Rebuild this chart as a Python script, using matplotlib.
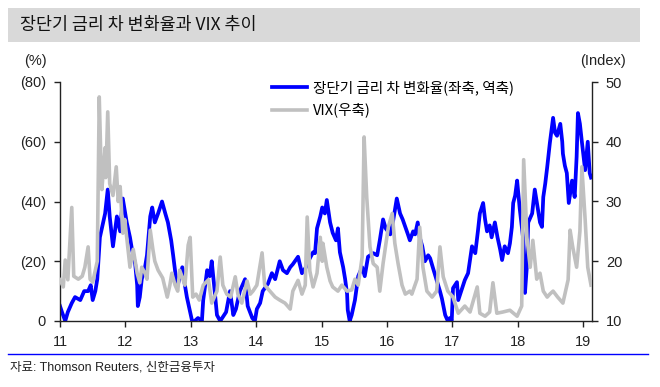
import matplotlib
matplotlib.use("Agg")
import matplotlib.pyplot as plt
from matplotlib.patches import Rectangle
from matplotlib.lines import Line2D
from matplotlib.ticker import FuncFormatter

plt.rcParams['font.family'] = ['Liberation Sans', 'Noto Sans CJK KR']

# ---------------- data ----------------
title = "장단기 금리 차 변화율과 VIX 추이"
source = "자료: Thomson Reuters, 신한금융투자"
label_spread = "장단기 금리 차 변화율(좌축, 역축)"
label_vix = "VIX(우축)"

year_ticks = [2011, 2012, 2013, 2014, 2015, 2016, 2017, 2018, 2019]
year_labels = ["11", "12", "13", "14", "15", "16", "17", "18", "19"]
left_ticks = [0, -20, -40, -60, -80]
right_ticks = [10, 20, 30, 40, 50]

spread_t = [
    2011.00, 2011.03, 2011.08, 2011.12, 2011.18, 2011.23, 2011.31, 2011.37, 2011.43, 2011.47,
    2011.50, 2011.54, 2011.57, 2011.61, 2011.66, 2011.69, 2011.73, 2011.76, 2011.81, 2011.84,
    2011.87, 2011.92, 2011.96, 2011.99, 2012.02, 2012.07, 2012.10, 2012.15, 2012.18, 2012.19,
    2012.22, 2012.25, 2012.30, 2012.33, 2012.38, 2012.41, 2012.45, 2012.50, 2012.56, 2012.61,
    2012.65, 2012.70, 2012.73, 2012.77, 2012.80, 2012.87, 2012.91, 2012.94, 2012.99, 2013.02,
    2013.06, 2013.11, 2013.17, 2013.19, 2013.25, 2013.29, 2013.32, 2013.37, 2013.40, 2013.45,
    2013.48, 2013.54, 2013.60, 2013.65, 2013.69, 2013.75, 2013.83, 2013.87, 2013.94, 2013.98,
    2014.01, 2014.06, 2014.10, 2014.18, 2014.24, 2014.29, 2014.36, 2014.41, 2014.47, 2014.52,
    2014.56, 2014.64, 2014.70, 2014.76, 2014.82, 2014.87, 2014.90, 2014.93, 2014.98, 2015.01,
    2015.05, 2015.08, 2015.13, 2015.17, 2015.22, 2015.25, 2015.28, 2015.33, 2015.36, 2015.39,
    2015.40, 2015.43, 2015.46, 2015.51, 2015.56, 2015.62, 2015.66, 2015.71, 2015.79, 2015.85,
    2015.89, 2015.94, 2015.98, 2016.05, 2016.09, 2016.12, 2016.15, 2016.20, 2016.24, 2016.28,
    2016.32, 2016.35, 2016.40, 2016.43, 2016.47, 2016.50, 2016.54, 2016.58, 2016.63, 2016.66,
    2016.70, 2016.76, 2016.81, 2016.84, 2016.89, 2016.93, 2016.96, 2016.99, 2017.01, 2017.07,
    2017.09, 2017.15, 2017.19, 2017.24, 2017.30, 2017.35, 2017.39, 2017.42, 2017.47, 2017.50,
    2017.53, 2017.57, 2017.60, 2017.65, 2017.69, 2017.73, 2017.76, 2017.80, 2017.85, 2017.88,
    2017.91, 2017.93, 2017.96, 2017.99, 2018.03, 2018.08, 2018.09, 2018.11, 2018.14, 2018.16,
    2018.22, 2018.26, 2018.31, 2018.34, 2018.37, 2018.39, 2018.42, 2018.45, 2018.49, 2018.54,
    2018.57, 2018.60, 2018.65, 2018.68, 2018.69, 2018.72, 2018.75, 2018.78, 2018.83, 2018.87,
    2018.90, 2018.92, 2018.95, 2018.98, 2019.03, 2019.07, 2019.10, 2019.12,
]
# change rate of the long-short spread (%), negative values (plotted on reversed axis)
spread_v = [
    -5, -3, 0, -3, -6, -8, -7, -10, -10, -12,
    -7, -10, -14, -28, -33, -36, -44, -35, -25, -30,
    -35, -30, -41, -37, -33, -28, -24, -19, -12, -5,
    -8, -14, -18, -22, -35, -38, -33, -36, -40, -36,
    -33, -27, -22, -15, -12, -18, -12, -8, -3, 0,
    0, -1, 0, -7, -17, -15, -20, -9, -2, 0,
    -1, -3, -10, -2, -4, -10, -14, -5, -1, 0,
    -4, -6, -10, -12.5, -16, -14, -20, -17, -16, -18,
    -19, -21.5, -16, -18, -21, -23, -22.7, -31, -35, -38,
    -36, -40.5, -33, -29.5, -27, -31, -23, -18, -14, -9,
    -3.7, 0, -2, -7, -15, -18, -15, -21.5, -22.7, -22,
    -27, -34, -31, -29, -33, -37, -41, -36, -34, -31.5,
    -29, -27, -30, -29, -33, -28, -25, -20, -22, -21,
    -18, -13.7, -10, -7.5, -2, 0, -1, 0, -11, -13,
    -7, -11, -13.7, -16, -25, -22.7, -30, -36, -39.5, -34,
    -30, -32, -28, -33, -28, -24, -20.4, -25, -22.7, -26,
    -31.5, -39.5, -42, -47, -37.6, -28, -20, -9.4, -18.7, -33,
    -36, -44, -37, -33, -31.5, -41.5, -46, -51.5, -59.5, -68,
    -63, -62, -66, -60, -56, -52, -49.5, -39.5, -47, -41.5,
    -55, -69.6, -66, -60, -50.5, -60, -49.5, -48,
]

vix_t = [
    2011.00, 2011.05, 2011.08, 2011.12, 2011.18, 2011.21, 2011.28, 2011.34, 2011.38, 2011.43,
    2011.46, 2011.50, 2011.54, 2011.57, 2011.60, 2011.63, 2011.64, 2011.69, 2011.70, 2011.73,
    2011.76, 2011.81, 2011.86, 2011.89, 2011.92, 2011.96, 2011.99, 2012.04, 2012.07, 2012.12,
    2012.15, 2012.18, 2012.22, 2012.25, 2012.30, 2012.33, 2012.38, 2012.42, 2012.45, 2012.50,
    2012.57, 2012.64, 2012.68, 2012.71, 2012.76, 2012.80, 2012.83, 2012.88, 2012.91, 2012.96,
    2012.99, 2013.03, 2013.08, 2013.13, 2013.19, 2013.27, 2013.32, 2013.40, 2013.45, 2013.49,
    2013.55, 2013.61, 2013.68, 2013.72, 2013.78, 2013.86, 2013.91, 2013.95, 2014.01, 2014.09,
    2014.13, 2014.21, 2014.29, 2014.36, 2014.44, 2014.52, 2014.56, 2014.64, 2014.70, 2014.75,
    2014.78, 2014.82, 2014.87, 2014.93, 2014.98, 2015.01, 2015.02, 2015.08, 2015.13, 2015.17,
    2015.25, 2015.31, 2015.39, 2015.46, 2015.51, 2015.56, 2015.62, 2015.65, 2015.69, 2015.74,
    2015.79, 2015.85, 2015.89, 2015.94, 2016.02, 2016.08, 2016.12, 2016.17, 2016.23, 2016.28,
    2016.35, 2016.38, 2016.46, 2016.50, 2016.55, 2016.61, 2016.69, 2016.76, 2016.81, 2016.86,
    2016.93, 2017.01, 2017.09, 2017.19, 2017.27, 2017.38, 2017.42, 2017.50, 2017.57, 2017.62,
    2017.68, 2017.77, 2017.88, 2017.99, 2018.06, 2018.09, 2018.14, 2018.19, 2018.23, 2018.29,
    2018.34, 2018.39, 2018.45, 2018.49, 2018.54, 2018.61, 2018.69, 2018.77, 2018.80, 2018.84,
    2018.90, 2018.95, 2018.98, 2019.03, 2019.07, 2019.12,
]
vix_v = [
    16.9, 15.7, 20.2, 16.9, 29, 17.5, 17, 17.5, 19, 22.4,
    17, 16.5, 18.5, 20, 47.5, 35, 32, 39, 34, 45,
    33, 31, 35.8, 30, 32.5, 24.7, 27, 22, 19, 22,
    20, 18, 16.4, 19, 18, 17, 25.2, 22, 20, 18.5,
    17.2, 14, 16, 18, 16, 15, 18.5, 17, 16, 22.7,
    24, 14, 14.5, 13.5, 16, 16.9, 13, 15, 20.7, 16,
    14.5, 14, 17.4, 14.5, 13, 16.7, 14.5, 15, 16, 21.4,
    16, 15, 14, 13.5, 13, 12, 15, 16.8, 14.5, 16,
    27.4, 18.4, 15.7, 18, 24, 20, 23, 19, 16.7, 15.7,
    15, 16, 15, 15.2, 17, 16, 20.7, 40.8, 30.8, 22.4,
    19.6, 19, 15, 19.6, 25.7, 28, 23, 19.6, 16, 14.5,
    15, 14.5, 17, 25.7, 19, 15, 14, 15, 22.4, 17.4,
    15, 14, 11.3, 12.5, 11.5, 15.7, 11.3, 10.8, 11.5, 16.4,
    11.3, 11.5, 11.8, 10.8, 12.5, 37, 24, 19, 23.5, 17,
    18, 15, 14, 14.5, 15, 14, 13, 16.9, 25.2, 22.4,
    19, 25, 35.8, 27, 19, 16,
]

# ---------------- figure ----------------
W, H = 660, 387
fig = plt.figure(figsize=(W / 100, H / 100), dpi=100)

# title band
fig.add_artist(Rectangle((8 / W, 1 - 42 / H), 632 / W, 34 / H,
                         transform=fig.transFigure, facecolor='#D9D9D9', edgecolor='none'))
fig.text(20 / W, 1 - 25 / H, title, fontsize=12.5, va='center', ha='left',
         family=['Noto Sans CJK KR'], color='#111111')

ax = fig.add_axes([60 / W, 1 - 321 / H, (592 - 60) / W, (321 - 82) / H])
ax2 = ax.twinx()

l1, = ax.plot(spread_t, spread_v, color='#0000FF', lw=2.7, zorder=2)
l2, = ax2.plot(vix_t, vix_v, color='#C0C0C0', lw=2.6, zorder=3)

ax.set_xlim(2011.0, 2019.135)
ax.set_ylim(0, -80)
ax2.set_ylim(10, 50)

ax.set_xticks(year_ticks)
ax.set_xticklabels(year_labels)
ax.set_yticks(left_ticks)
ax.yaxis.set_major_formatter(FuncFormatter(lambda v, p: "0" if v == 0 else "(%d)" % abs(v)))
ax2.set_yticks(right_ticks)

for a in (ax, ax2):
    a.spines['top'].set_visible(False)
    for s in ('left', 'right', 'bottom'):
        a.spines[s].set_color('#222222')
        a.spines[s].set_linewidth(1.0)
    a.patch.set_visible(False)
    a.tick_params(direction='out', length=4, width=1, color='#222222',
                  labelsize=10.5, labelcolor='#222222')
ax.spines['right'].set_visible(False)
ax2.spines['left'].set_visible(False)
ax2.spines['bottom'].set_visible(False)
ax.tick_params(axis='y', pad=6)
ax.tick_params(axis='x', pad=6)
ax2.tick_params(axis='y', pad=6)

fig.text(35 / W, 1 - 61 / H, "(%)", fontsize=10.5, ha='center', va='center', color='#222222')
fig.text(603 / W, 1 - 61 / H, "(Index)", fontsize=10.5, ha='center', va='center', color='#222222')

fig.legend([l1, l2], [label_spread, label_vix], loc='upper left',
           bbox_to_anchor=(272 / W, 1 - 80 / H), frameon=False,
           prop={'family': ['Noto Sans CJK KR'], 'size': 10.5},
           handlelength=2.4, handletextpad=0.4, labelspacing=0.55,
           borderpad=0, borderaxespad=0)

# bottom rule and source
fig.add_artist(Line2D([8 / W, 648 / W], [1 - 354 / H, 1 - 354 / H],
                      transform=fig.transFigure, color='#0000FF', lw=1.0))
fig.text(10 / W, 1 - 368 / H, source, fontsize=9, ha='left', va='center',
         color='#222222')

fig.savefig("out.png", dpi=100)
